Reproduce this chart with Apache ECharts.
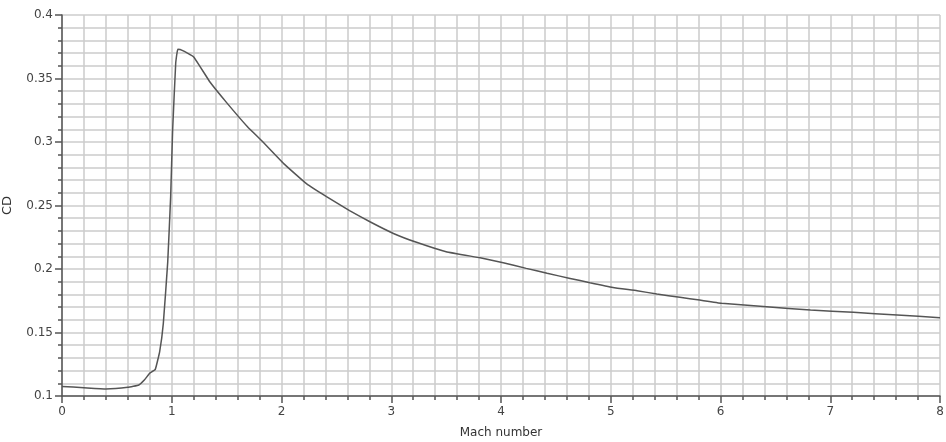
<!DOCTYPE html>
<html>
<head>
<meta charset="utf-8">
<script src="https://cdn.jsdelivr.net/npm/echarts@6/dist/echarts.min.js"></script>
<style>
  html, body { margin: 0; padding: 0; background: #fff; }
  #chart { width: 946px; height: 442px; }
</style>
</head>
<body>
<div id="chart"></div>
<script>
// data
var mach = [0, 0.2, 0.4, 0.6, 0.7, 0.75, 0.8, 0.85, 0.89, 0.923, 0.963, 0.99, 1.008, 1.036, 1.055, 1.1, 1.2, 1.35, 1.5, 1.69, 1.82, 2.02, 2.23, 2.41, 2.62, 2.81, 3.02, 3.23, 3.5, 3.81, 4.02, 4.23, 4.42, 4.63, 4.81, 5.02, 5.24, 5.42, 5.63, 5.81, 6.01, 6.42, 6.82, 7.21, 7.61, 8.0];
var cd = [0.1075, 0.1065, 0.1055, 0.1068, 0.1087, 0.1126, 0.118, 0.121, 0.135, 0.157, 0.205, 0.257, 0.309, 0.362, 0.373, 0.372, 0.367, 0.347, 0.331, 0.312, 0.301, 0.283, 0.267, 0.257, 0.246, 0.237, 0.228, 0.221, 0.2136, 0.2088, 0.205, 0.2005, 0.1966, 0.1926, 0.1892, 0.1855, 0.1829, 0.1803, 0.1777, 0.1755, 0.173, 0.1703, 0.1677, 0.1659, 0.1638, 0.1617];

var pts = [];
for (var i = 0; i < mach.length; i++) {
    pts.push([mach[i], cd[i]]);
}

var axisCol = '#555';
var gridCol = '#cccccc';

var chart = echarts.init(document.getElementById('chart'));
var option = {
    backgroundColor: '#fff',
    animation: false,
    textStyle: { fontFamily: 'DejaVu Sans' },
    grid: { left: 62, right: 6, top: 15, bottom: 46, containLabel: false, outerBoundsMode: 'none' },
    xAxis: {
        type: 'value',
        min: 0, max: 8, interval: 1,
        name: 'Mach number',
        nameLocation: 'middle',
        nameGap: 31,
        nameTextStyle: { color: '#333', fontSize: 12 },
        axisLine: { show: true, lineStyle: { color: axisCol, width: 1.5 } },
        axisTick: { show: true, length: 7, lineStyle: { color: axisCol, width: 1.5 } },
        minorTick: { show: true, splitNumber: 5, length: 4, lineStyle: { color: axisCol, width: 1.5 } },
        axisLabel: { color: '#444', fontSize: 12, margin: 10 },
        splitLine: { show: true, lineStyle: { color: gridCol, width: 1.5 } },
        minorSplitLine: { show: true, lineStyle: { color: gridCol, width: 1.5 } }
    },
    yAxis: {
        type: 'value',
        min: 0.1, max: 0.4, interval: 0.05,
        name: 'CD',
        nameLocation: 'middle',
        nameGap: 48,
        nameTextStyle: { color: '#333', fontSize: 13 },
        axisLine: { show: true, lineStyle: { color: axisCol, width: 1.5 } },
        axisTick: { show: true, length: 7, lineStyle: { color: axisCol, width: 1.5 } },
        minorTick: { show: true, splitNumber: 5, length: 4, lineStyle: { color: axisCol, width: 1.5 } },
        axisLabel: {
            color: '#444', fontSize: 12, margin: 9,
            formatter: function (v) { return String(+v.toFixed(2)); }
        },
        splitLine: { show: true, lineStyle: { color: gridCol, width: 1.5 } },
        minorSplitLine: { show: true, lineStyle: { color: gridCol, width: 1.5 } }
    },
    series: [{
        type: 'line',
        data: pts,
        symbol: 'none',
        smooth: 0.1,
        lineStyle: { color: '#555', width: 1.5 }
    }]
};
chart.setOption(option);
</script>
</body>
</html>
